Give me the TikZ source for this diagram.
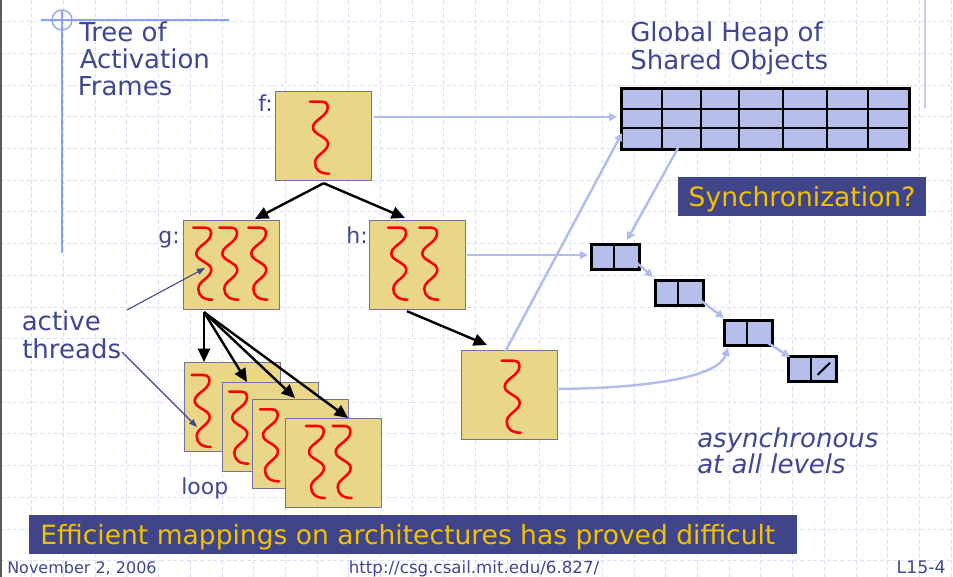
\documentclass[tikz,border=0pt]{standalone}
\usepackage{fontspec}
\setmainfont{DejaVu Sans}
\usetikzlibrary{calc,arrows.meta}

\definecolor{slateink}{RGB}{63,71,143}
\definecolor{framefill}{RGB}{234,214,135}
\definecolor{frameedge}{RGB}{112,114,162}
\definecolor{heapfill}{RGB}{182,191,235}
\definecolor{linkblue}{RGB}{178,188,234}
\definecolor{gridblue}{RGB}{218,225,247}
\definecolor{bannerblue}{RGB}{64,68,136}
\definecolor{bannergold}{RGB}{242,194,0}
\definecolor{rulerblue}{RGB}{140,160,240}
\definecolor{sidebar}{RGB}{196,202,245}

\tikzset{
  gridline/.style={gridblue, line width=0.6pt, dash pattern=on 3pt off 2pt},
  frame/.style={draw=frameedge, line width=0.9pt, fill=framefill, inner sep=0pt,
    minimum width=72pt, minimum height=66.75pt, anchor=north west},
  cell/.style={draw=black, line width=1.9pt, fill=heapfill, inner sep=0pt,
    minimum width=36pt, minimum height=18.75pt, anchor=north west},
  divider/.style={black, line width=1.9pt},
  callarrow/.style={-{Triangle[length=10pt,width=9pt]}, line width=1.8pt, black},
  ptrarrow/.style={-{Triangle[length=6pt,width=6pt]}, line width=1.8pt, linkblue},
  notearrow/.style={-{Triangle[length=6pt,width=4.5pt]}, line width=0.8pt, slateink},
  threadline/.style={red, line width=1.9pt, line join=round, line cap=round},
  thread/.pic={\draw[threadline] (0,0) -- (12,0)
    .. controls (17,0) and (19,4) .. (17,9)
    .. controls (14,16) and (3,19) .. (3,26)
    .. controls (3,33) and (18,35) .. (18,42)
    .. controls (18,50) and (5,53) .. (5,61)
    .. controls (5,68) and (10,72) .. (19,72);},
  bigtext/.style={font=\fontsize{19.5pt}{20.4pt}\selectfont, text=slateink, inner sep=0pt},
  labeltext/.style={font=\fontsize{16.5pt}{18pt}\selectfont, text=slateink, inner sep=0pt},
  foottext/.style={font=\fontsize{12pt}{14pt}\selectfont, text=slateink, inner sep=0pt},
  banner/.style={fill=bannerblue, text=bannergold, inner sep=0pt,
    font=\fontsize{19.9pt}{21pt}\selectfont, text height=14.5pt, text depth=0pt},
}

\begin{document}
\begin{tikzpicture}[x=0.75pt, y=-0.75pt]
\useasboundingbox (0,0) rectangle (953,577);
\fill[white] (0,0) rectangle (953,577);

% background grid
\foreach \k in {1,...,30} \draw[gridline] (\k*31.7,0) -- (\k*31.7,577);
\foreach \k in {0,...,17} \draw[gridline] (0,21.7+\k*31.7) -- (953,21.7+\k*31.7);

% slide edge and ruler ornaments
\draw[line width=1.5pt, black!65] (0.8,0) -- (0.8,577);
\draw[rulerblue, line width=0.9pt] (41,20) -- (229,20);
\draw[rulerblue, line width=0.9pt] (62,10) -- (62,253);
\draw[rulerblue, line width=0.9pt] (62,20) circle[radius=7.5pt];
\draw[sidebar, line width=1.6pt] (925,0) -- (925,108);

% titles
\node[bigtext, anchor=base west] (title1) at (79,41.5) {Tree of};
\node[bigtext, anchor=base west] (title2) at (79.5,68.5) {Activation};
\node[bigtext, anchor=base west] (title3) at (77.5,96) {Frames};
\node[bigtext, anchor=base west] (heaptitle1) at (630,41.7) {Global Heap of};
\node[bigtext, anchor=base west] (heaptitle2) at (630,69.5) {Shared Objects};

% activation frames
\node[frame] (f) at (275,91) {};
\pic at (310,101.7) {thread};
\node[labeltext, anchor=base east] (flabel) at (273,112) {f:};

\node[frame] (g) at (183,220) {};
\pic at (193.3,227.7) {thread};
\pic at (219.3,227.7) {thread};
\pic at (248.3,227.7) {thread};
\node[labeltext, anchor=base east] (glabel) at (180,243.5) {g:};

\node[frame] (h) at (369,220) {};
\pic at (388.3,227.7) {thread};
\pic at (419.3,227.7) {thread};
\node[labeltext, anchor=base east] (hlabel) at (368,243.5) {h:};

\node[frame] (k) at (461,350) {};
\pic at (501.7,360.7) {thread};

% loop frames
\node[frame] (loop1) at (184,362) {};
\pic at (191.7,375) {thread};
\node[frame] (loop2) at (222,382) {};
\pic at (229.3,391.7) {thread};
\node[frame] (loop3) at (252,399) {};
\pic at (260,409.3) {thread};
\node[frame] (loop4) at (285,418) {};
\pic at (306,426) {thread};
\pic at (332.7,426) {thread};
\node[labeltext, anchor=base west] (looplabel) at (181,494) {loop};

% spawn edges
\draw[callarrow] ($(f.south)+(0,2)$) -- ($(g.north west)+(72,-1)$);
\draw[callarrow] ($(f.south)+(0,2)$) -- ($(h.north west)+(36,-2)$);
\draw[callarrow] ($(h.south west)+(38,1)$) -- ($(k.north west)+(26,-5)$);
\draw[callarrow] ($(g.south west)+(21,2)$) -- ($(loop1.north west)+(20,0)$);
\draw[callarrow] ($(g.south west)+(21,2)$) -- ($(loop2.north west)+(25,0)$);
\draw[callarrow] ($(g.south west)+(21,2)$) -- ($(loop3.north west)+(43,-1)$);
\draw[callarrow] ($(g.south west)+(21,2)$) -- ($(loop4.north west)+(63,0)$);

% shared heap
\node[cell, minimum width=216pt, minimum height=45.75pt] (heap) at (620,87) {};
\foreach \dx in {42,81,119,163,207,248}
  \draw[divider] ($(heap.north west)+(\dx,0)$) -- ($(heap.south west)+(\dx,0)$);
\foreach \dy in {22,41}
  \draw[divider] ($(heap.north west)+(0,\dy)$) -- ($(heap.north east)+(0,\dy)$);

% linked cells
\node[cell] (c1) at (590,243) {};
\node[cell] (c2) at (654,279) {};
\node[cell] (c3) at (723,319) {};
\node[cell] (c4) at (787,355) {};
\foreach \c in {c1,c2,c3,c4}
  \draw[divider] ($(\c.north west)+(24,0)$) -- ($(\c.south west)+(24,0)$);
\draw[black, line width=1.5pt] ($(c4.north west)+(30.5,20)$) -- ($(c4.north west)+(43,7.7)$);

% references into the heap
\draw[ptrarrow] ($(f.north west)+(99,26)$) -- ($(heap.north west)+(-3,30)$);
\draw[ptrarrow] ($(h.north west)+(98,35)$) -- ($(c1.north west)+(-2,12)$);
\draw[ptrarrow] ($(k.north west)+(44,2)$) -- ($(heap.north west)+(2,46)$);
\draw[ptrarrow] ($(heap.north west)+(58,61)$) -- ($(c1.north west)+(37,-3)$);
\draw[ptrarrow] ($(c1.north west)+(47,20)$) -- ($(c2.north west)+(-1,-2)$);
\draw[ptrarrow] ($(c2.north west)+(46,21)$) -- ($(c3.north west)+(1,-1)$);
\draw[ptrarrow] ($(c3.north west)+(45,24)$) -- ($(c4.north west)+(3,2)$);
\draw[ptrarrow] ($(k.north west)+(96,39)$) .. controls (650,388) and (718,377) .. ($(c3.north west)+(5,29)$);

% thread annotation
\node[bigtext, anchor=base west] (active) at (21.5,330) {active};
\node[bigtext, anchor=base west] (threads) at (22,358) {threads};
\coordinate (noteA) at (127,310);
\coordinate (noteB) at (122,352);
\draw[notearrow] (noteA) -- ($(g.north west)+(22,48)$);
\draw[notearrow] (noteB) -- ($(loop1.north west)+(13,65)$);

% banners and remarks
\node[banner, minimum width=186pt, minimum height=29.25pt] (sync) at (802,196.5) {Synchronization?};
\node[bigtext, anchor=base west, font=\fontsize{19.5pt}{20.4pt}\selectfont\itshape] (async1) at (697,447) {asynchronous};
\node[bigtext, anchor=base west, font=\fontsize{19.5pt}{20.4pt}\selectfont\itshape] (async2) at (697,473) {at all levels};
\node[banner, minimum width=575.8pt, minimum height=29.25pt] (hard) at (413.2,534.5) {Efficient mappings on architectures has proved difficult\hspace*{8pt}};

% footer
\node[foottext, anchor=base west] (date) at (7,573.5) {November 2, 2006};
\node[foottext, anchor=base, font=\fontsize{12.5pt}{14pt}\selectfont] (url) at (474,573.5) {http://csg.csail.mit.edu/6.827/};
\node[foottext, anchor=base east, font=\fontsize{13pt}{14pt}\selectfont] (page) at (946,573.5) {L15-4};
\end{tikzpicture}
\end{document}
